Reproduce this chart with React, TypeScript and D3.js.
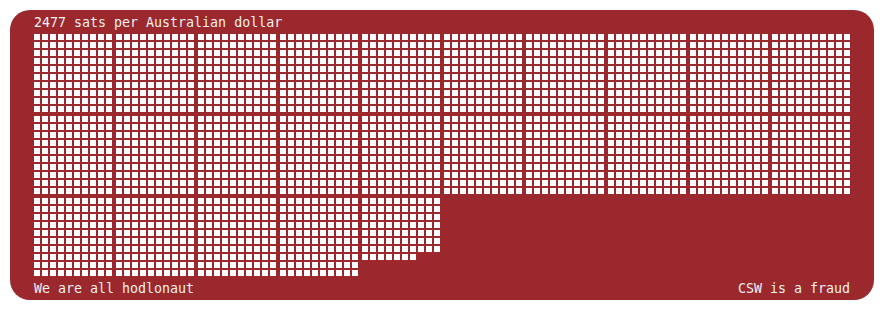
import React from "react";
import * as d3 from "d3";

const totalSats = 2477;
const perBlock = 100;
const blocksPerRow = 10;
const dotsPerSide = 10;
const titleText = "2477 sats per Australian dollar";
const footerLeft = "We are all hodlonaut";
const footerRight = "CSW is a fraud";

const W = 884;
const H = 310;
const BG = "#9a282d";
const FG = "#ffffff";
const TEXT = "#f0f0f0";

export default function App() {
  const dots: { x: number; y: number; k: number }[] = [];
  const dotPitch = 8;
  const dotSize = 6;
  const blockPitch = 82;
  const bx = d3.scaleLinear().domain([0, 1]).range([34, 34 + blockPitch]);
  const by = d3.scaleLinear().domain([0, 1]).range([34, 34 + blockPitch]);
  const dx = d3.scaleLinear().domain([0, 1]).range([0, dotPitch]);
  for (let i = 0; i < totalSats; i++) {
    const b = Math.floor(i / perBlock);
    const r = i % perBlock;
    const bcol = b % blocksPerRow;
    const brow = Math.floor(b / blocksPerRow);
    const col = r % dotsPerSide;
    const row = Math.floor(r / dotsPerSide);
    dots.push({ x: bx(bcol) + dx(col), y: by(brow) + dx(row), k: i });
  }
  const font = "'DejaVu Sans Mono', monospace";
  return (
    <svg width={W} height={H} style={{ position: "absolute", left: 0, top: 0 }}>
      <rect x={10} y={10} width={864} height={290} rx={20} ry={20} fill={BG} />
      <text x={34} y={27} fill={TEXT} fontFamily={font} fontSize={13.3}>{titleText}</text>
      {dots.map((d) => (
        <rect key={d.k} x={d.x} y={d.y} width={dotSize} height={dotSize} fill={FG} />
      ))}
      <text x={34} y={293} fill={TEXT} fontFamily={font} fontSize={13.3}>{footerLeft}</text>
      <text x={850} y={293} fill={TEXT} fontFamily={font} fontSize={13.3} textAnchor="end">{footerRight}</text>
    </svg>
  );
}
